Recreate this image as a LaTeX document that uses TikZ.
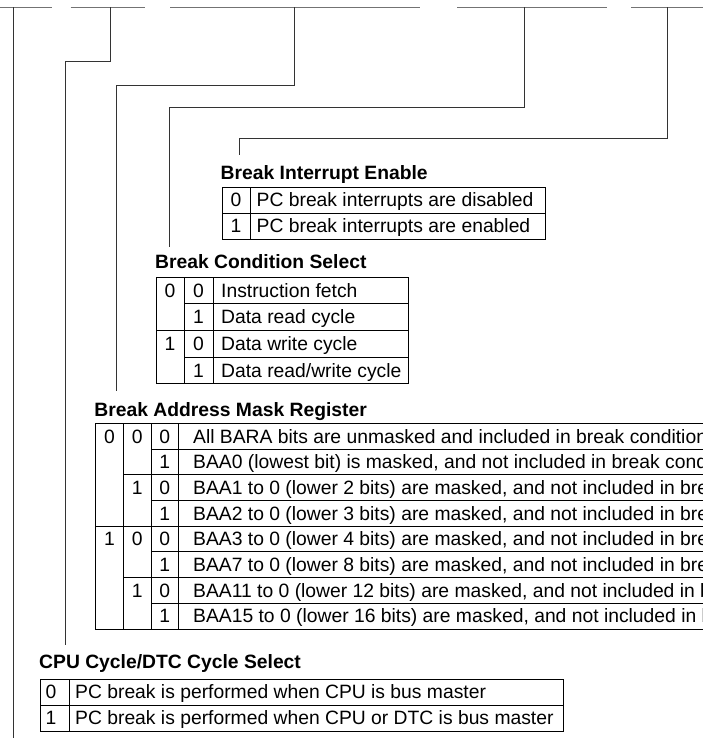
\documentclass[tikz,border=0pt]{standalone}
\usepackage{fontspec}
\setmainfont{Liberation Sans}
\begin{document}
\begin{tikzpicture}[x=1pt, y=-1pt, every node/.style={inner sep=0pt, font=\fontsize{19.3}{23}\selectfont}]
        % Common Styles
        \tikzset{bitline/.style={black!55, line width=1.6pt}}
        \tikzset{conn/.style={black!80, line width=0.9pt}}
        \tikzset{grid/.style={black, line width=0.8pt}}
        \tikzset{title/.style={anchor=base west, font=\fontsize{19.3}{23}\selectfont\bfseries}}
        \tikzset{bit/.style={anchor=base}}
        \tikzset{desc/.style={anchor=base west}}

        \useasboundingbox (0,0) rectangle (703,738);
        \clip (0,0) rectangle (703,738);

        % Register bits
        \draw[bitline] (0,7.5) -- (52,7.5);
        \draw[bitline] (70.5,7.5) -- (145,7.5);
        \draw[bitline] (170,7.5) -- (420,7.5);
        \draw[bitline] (457,7.5) -- (607,7.5);
        \draw[bitline] (631,7.5) -- (703,7.5);
        \coordinate (bitA) at (13.3,7.5);
        \coordinate (bitB) at (110.8,7.5);
        \coordinate (bitC) at (294.6,7.5);
        \coordinate (bitD) at (524.7,7.5);
        \coordinate (bitE) at (667.7,7.5);
        \coordinate (bitAend) at (13.3,740);

        % 1. Break Interrupt Enable
        \begin{scope}[shift={(222,187)}]
            \node[title] (bie) at (-1.5,-8) {Break Interrupt Enable};
            \coordinate (bieTop) at (17.5,-32);
            \draw[grid] (0,0) rectangle (323,52);
            \draw[grid] (28,0) -- (28,52);
            \draw[grid] (0,26) -- (323,26);
            \node[bit] (bie0) at (14,19.8) {0};
            \node[bit] (bie1) at (14,45.8) {1};
            \node[desc] (bieA) at (34.5,19.8) {PC break interrupts are disabled};
            \node[desc] (bieB) at (34.5,45.8) {PC break interrupts are enabled};
        \end{scope}

        % 2. Break Condition Select
        \begin{scope}[shift={(156.5,277)}]
            \node[title] (bcs) at (-1.5,-8.5) {Break Condition Select};
            \coordinate (bcsTop) at (12.5,-30);
            \draw[grid] (0,0) rectangle (251.5,106.8);
            \draw[grid] (27.5,0) -- (27.5,106.8);
            \draw[grid] (56.5,0) -- (56.5,106.8);
            \draw[grid] (27.5,26.7) -- (251.5,26.7);
            \draw[grid] (0,53.4) -- (251.5,53.4);
            \draw[grid] (27.5,80.1) -- (251.5,80.1);
            \node[bit] (bcs10) at (13.5,20.2) {0};
            \node[bit] (bcs11) at (13.5,73.6) {1};
            \node[bit] (bcs20) at (42,20.2) {0};
            \node[bit] (bcs21) at (42,46.9) {1};
            \node[bit] (bcs22) at (42,73.6) {0};
            \node[bit] (bcs23) at (42,100.3) {1};
            \node[desc] (bcsA) at (64.5,20.2) {Instruction fetch};
            \node[desc] (bcsB) at (64.5,46.9) {Data read cycle};
            \node[desc] (bcsC) at (64.5,73.6) {Data write cycle};
            \node[desc] (bcsD) at (64.5,100.3) {Data read/write cycle};
        \end{scope}

        % 3. Break Address Mask Register (cut at the right edge)
        \begin{scope}[shift={(95.7,423.3)}]
            \node[title] (bamr) at (-1.5,-6.8) {Break Address Mask Register};
            \coordinate (bamrTop) at (20.8,-32.3);
            \draw[grid] (0,0) rectangle (650,205.6);
            \draw[grid] (27.6,0) -- (27.6,205.6);
            \draw[grid] (55.3,0) -- (55.3,205.6);
            \draw[grid] (82.6,0) -- (82.6,205.6);
            \draw[grid] (55.3,25.7) -- (650,25.7);
            \draw[grid] (27.6,51.4) -- (650,51.4);
            \draw[grid] (55.3,77.1) -- (650,77.1);
            \draw[grid] (0,102.8) -- (650,102.8);
            \draw[grid] (55.3,128.5) -- (650,128.5);
            \draw[grid] (27.6,154.2) -- (650,154.2);
            \draw[grid] (55.3,179.9) -- (650,179.9);
            \node[bit] (bm10) at (13.8,19.7) {0};
            \node[bit] (bm11) at (13.8,122.5) {1};
            \node[bit] (bm20) at (41.5,19.7) {0};
            \node[bit] (bm21) at (41.5,71.1) {1};
            \node[bit] (bm22) at (41.5,122.5) {0};
            \node[bit] (bm23) at (41.5,173.9) {1};
            \node[bit] (bm30) at (69,19.7) {0};
            \node[bit] (bm31) at (69,45.4) {1};
            \node[bit] (bm32) at (69,71.1) {0};
            \node[bit] (bm33) at (69,96.8) {1};
            \node[bit] (bm34) at (69,122.5) {0};
            \node[bit] (bm35) at (69,148.2) {1};
            \node[bit] (bm36) at (69,173.9) {0};
            \node[bit] (bm37) at (69,199.6) {1};
            \node[desc] (bmA) at (97.3,19.7) {All BARA bits are unmasked and included in break condition};
            \node[desc] (bmB) at (97.3,45.4) {BAA0 (lowest bit) is masked, and not included in break cond};
            \node[desc] (bmC) at (97.3,71.1) {BAA1 to 0 (lower 2 bits) are masked, and not included in bre};
            \node[desc] (bmD) at (97.3,96.8) {BAA2 to 0 (lower 3 bits) are masked, and not included in bre};
            \node[desc] (bmE) at (97.3,122.5) {BAA3 to 0 (lower 4 bits) are masked, and not included in bre};
            \node[desc] (bmF) at (97.3,148.2) {BAA7 to 0 (lower 8 bits) are masked, and not included in bre};
            \node[desc] (bmG) at (97.3,173.9) {BAA11 to 0 (lower 12 bits) are masked, and not included in b};
            \node[desc] (bmH) at (97.3,199.6) {BAA15 to 0 (lower 16 bits) are masked, and not included in b};
        \end{scope}

        % 4. CPU Cycle/DTC Cycle Select
        \begin{scope}[shift={(40.5,679)}]
            \node[title] (cpu) at (-1.5,-10.5) {CPU Cycle/DTC Cycle Select};
            \coordinate (cpuTop) at (24.5,-34);
            \draw[grid] (0,0) rectangle (522.5,52);
            \draw[grid] (28.5,0) -- (28.5,52);
            \draw[grid] (0,26) -- (522.5,26);
            \node[bit] (cpu0) at (10.5,19.8) {0};
            \node[bit] (cpu1) at (10.5,45.8) {1};
            \node[desc] (cpuA) at (34.5,19.8) {PC break is performed when CPU is bus master};
            \node[desc] (cpuB) at (34.5,45.8) {PC break is performed when CPU or DTC is bus master};
        \end{scope}

        % Connectors from the bits down to the tables
        \draw[conn] (bitA) -- (bitAend);
        \draw[conn] (bitB) -- ++(0,54.2) -| (cpuTop);
        \draw[conn] (bitC) -- ++(0,78.2) -| (bamrTop);
        \draw[conn] (bitD) -- ++(0,99.8) -| (bcsTop);
        \draw[conn] (bitE) -- ++(0,130.8) -| (bieTop);
\end{tikzpicture}
\end{document}
